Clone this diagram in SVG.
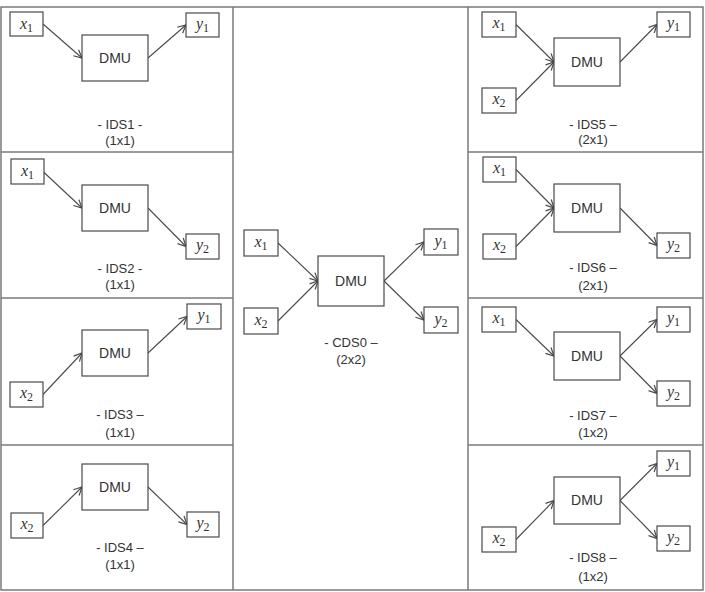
<svg xmlns="http://www.w3.org/2000/svg" width="705" height="592" viewBox="0 0 705 592">
<style>
.bg{fill:#fff}
.grid{stroke:#7a7a7a;stroke-width:1.5;fill:none}
.box{fill:#fff;stroke:#4a4a4a;stroke-width:1.2}
.dmu{font-family:"Liberation Sans",Arial,sans-serif;font-size:14px;fill:#333;text-anchor:middle}
.var{font-family:"Liberation Serif","Times New Roman",serif;font-size:16px;fill:#333;text-anchor:middle}
.var .v{font-style:italic}
.var .s{font-size:12px}
.cap{font-family:"Liberation Sans",Arial,sans-serif;font-size:13px;fill:#333;text-anchor:middle}
.arr{stroke:#4a4a4a;stroke-width:1.1;fill:none;marker-end:url(#ah)}
</style>
<defs>
<marker id="ah" markerUnits="userSpaceOnUse" markerWidth="12" markerHeight="12" refX="9" refY="5" orient="auto">
<path d="M1,1 L9,5 L1,9" fill="none" stroke="#4a4a4a" stroke-width="1.2"/>
</marker>
</defs>
<rect class="bg" x="0" y="0" width="705" height="592"/>
<g id="grid">
<rect class="grid" x="1" y="7" width="702" height="583"/>
<line class="grid" x1="233" y1="7" x2="233" y2="590"/>
<line class="grid" x1="468" y1="7" x2="468" y2="590"/>
<line class="grid" x1="1" y1="152" x2="233" y2="152"/>
<line class="grid" x1="1" y1="298" x2="233" y2="298"/>
<line class="grid" x1="1" y1="445" x2="233" y2="445"/>
<line class="grid" x1="468" y1="152" x2="703" y2="152"/>
<line class="grid" x1="468" y1="298" x2="703" y2="298"/>
<line class="grid" x1="468" y1="445" x2="703" y2="445"/>
</g>

<g id="connectors">
<line class="arr" x1="43" y1="24" x2="82" y2="58"/>
<line class="arr" x1="148" y1="58" x2="186" y2="25"/>
<line class="arr" x1="43" y1="171.5" x2="82" y2="208"/>
<line class="arr" x1="148" y1="208" x2="186" y2="246.5"/>
<line class="arr" x1="43" y1="394.5" x2="82" y2="353"/>
<line class="arr" x1="148" y1="353" x2="187" y2="316.5"/>
<line class="arr" x1="43" y1="525.5" x2="82" y2="487"/>
<line class="arr" x1="148" y1="487" x2="187" y2="524.5"/>
<line class="arr" x1="278" y1="243" x2="318" y2="281"/>
<line class="arr" x1="278" y1="321" x2="318" y2="281"/>
<line class="arr" x1="384" y1="281" x2="424" y2="242"/>
<line class="arr" x1="384" y1="281" x2="424" y2="320"/>
<line class="arr" x1="516" y1="24.5" x2="554" y2="62"/>
<line class="arr" x1="516" y1="100.5" x2="554" y2="62"/>
<line class="arr" x1="620" y1="62" x2="657" y2="24.5"/>
<line class="arr" x1="516" y1="169.5" x2="554" y2="208"/>
<line class="arr" x1="516" y1="246.5" x2="554" y2="208"/>
<line class="arr" x1="620" y1="208" x2="657" y2="245.5"/>
<line class="arr" x1="516" y1="319.5" x2="554" y2="356"/>
<line class="arr" x1="620" y1="356" x2="657" y2="319.5"/>
<line class="arr" x1="620" y1="356" x2="657" y2="393.5"/>
<line class="arr" x1="516" y1="539.5" x2="554" y2="500.5"/>
<line class="arr" x1="620" y1="500.5" x2="657" y2="463.5"/>
<line class="arr" x1="620" y1="500.5" x2="657" y2="538.5"/>
</g>

<g id="ids1">
<rect class="box" x="10" y="12" width="33" height="24"/>
<text class="var" x="26.5" y="29"><tspan class="v">x</tspan><tspan class="s" dy="3">1</tspan></text>
<rect class="box" x="82" y="35" width="66" height="46"/>
<text class="dmu" x="115" y="63">DMU</text>
<rect class="box" x="186" y="13" width="33" height="24"/>
<text class="var" x="202.5" y="29"><tspan class="v">y</tspan><tspan class="s" dy="3">1</tspan></text>
<text class="cap" x="120" y="129">- IDS1 -</text>
<text class="cap" x="120" y="145">(1x1)</text>
</g>

<g id="ids2">
<rect class="box" x="11" y="159" width="33" height="25"/>
<text class="var" x="27.5" y="176"><tspan class="v">x</tspan><tspan class="s" dy="3">1</tspan></text>
<rect class="box" x="82" y="185" width="66" height="46"/>
<text class="dmu" x="115" y="213">DMU</text>
<rect class="box" x="186" y="234" width="33" height="25"/>
<text class="var" x="202.5" y="250"><tspan class="v">y</tspan><tspan class="s" dy="3">2</tspan></text>
<text class="cap" x="120" y="273">- IDS2 -</text>
<text class="cap" x="120" y="289">(1x1)</text>
</g>

<g id="ids3">
<rect class="box" x="187" y="304" width="34" height="25"/>
<text class="var" x="204" y="320"><tspan class="v">y</tspan><tspan class="s" dy="3">1</tspan></text>
<rect class="box" x="82" y="330" width="66" height="46"/>
<text class="dmu" x="115" y="358">DMU</text>
<rect class="box" x="10" y="382" width="33" height="25"/>
<text class="var" x="26.5" y="398"><tspan class="v">x</tspan><tspan class="s" dy="3">2</tspan></text>
<text class="cap" x="120" y="419">- IDS3 –</text>
<text class="cap" x="120" y="437">(1x1)</text>
</g>

<g id="ids4">
<rect class="box" x="82" y="464" width="66" height="46"/>
<text class="dmu" x="115" y="492">DMU</text>
<rect class="box" x="11" y="513" width="32" height="25"/>
<text class="var" x="27" y="529"><tspan class="v">x</tspan><tspan class="s" dy="3">2</tspan></text>
<rect class="box" x="187" y="512" width="32" height="25"/>
<text class="var" x="203" y="528"><tspan class="v">y</tspan><tspan class="s" dy="3">2</tspan></text>
<text class="cap" x="120" y="552">- IDS4 –</text>
<text class="cap" x="120" y="569">(1x1)</text>
</g>

<g id="cds0">
<rect class="box" x="244" y="230" width="34" height="26"/>
<text class="var" x="261" y="247"><tspan class="v">x</tspan><tspan class="s" dy="3">1</tspan></text>
<rect class="box" x="244" y="308" width="34" height="26"/>
<text class="var" x="261" y="325"><tspan class="v">x</tspan><tspan class="s" dy="3">2</tspan></text>
<rect class="box" x="318" y="256" width="66" height="50"/>
<text class="dmu" x="351" y="286">DMU</text>
<rect class="box" x="424" y="229" width="34" height="26"/>
<text class="var" x="441" y="246"><tspan class="v">y</tspan><tspan class="s" dy="3">1</tspan></text>
<rect class="box" x="424" y="307" width="34" height="26"/>
<text class="var" x="441" y="324"><tspan class="v">y</tspan><tspan class="s" dy="3">2</tspan></text>
<text class="cap" x="351" y="347">- CDS0 –</text>
<text class="cap" x="351" y="364">(2x2)</text>
</g>

<g id="ids5">
<rect class="box" x="482" y="12" width="34" height="25"/>
<text class="var" x="499" y="28"><tspan class="v">x</tspan><tspan class="s" dy="3">1</tspan></text>
<rect class="box" x="482" y="88" width="34" height="25"/>
<text class="var" x="499" y="104"><tspan class="v">x</tspan><tspan class="s" dy="3">2</tspan></text>
<rect class="box" x="554" y="38" width="66" height="48"/>
<text class="dmu" x="587" y="67">DMU</text>
<rect class="box" x="657" y="12" width="33" height="25"/>
<text class="var" x="673.5" y="28"><tspan class="v">y</tspan><tspan class="s" dy="3">1</tspan></text>
<text class="cap" x="593" y="129">- IDS5 –</text>
<text class="cap" x="593" y="144">(2x1)</text>
</g>

<g id="ids6">
<rect class="box" x="483" y="157" width="33" height="25"/>
<text class="var" x="499.5" y="173"><tspan class="v">x</tspan><tspan class="s" dy="3">1</tspan></text>
<rect class="box" x="483" y="234" width="33" height="25"/>
<text class="var" x="499.5" y="250"><tspan class="v">x</tspan><tspan class="s" dy="3">2</tspan></text>
<rect class="box" x="554" y="184" width="66" height="48"/>
<text class="dmu" x="587" y="213">DMU</text>
<rect class="box" x="657" y="233" width="33" height="25"/>
<text class="var" x="673.5" y="249"><tspan class="v">y</tspan><tspan class="s" dy="3">2</tspan></text>
<text class="cap" x="593" y="272">- IDS6 –</text>
<text class="cap" x="593" y="290">(2x1)</text>
</g>

<g id="ids7">
<rect class="box" x="482" y="307" width="34" height="25"/>
<text class="var" x="499" y="323"><tspan class="v">x</tspan><tspan class="s" dy="3">1</tspan></text>
<rect class="box" x="554" y="332" width="66" height="48"/>
<text class="dmu" x="587" y="361">DMU</text>
<rect class="box" x="657" y="307" width="33" height="25"/>
<text class="var" x="673.5" y="323"><tspan class="v">y</tspan><tspan class="s" dy="3">1</tspan></text>
<rect class="box" x="657" y="381" width="33" height="25"/>
<text class="var" x="673.5" y="397"><tspan class="v">y</tspan><tspan class="s" dy="3">2</tspan></text>
<text class="cap" x="593" y="420">- IDS7 –</text>
<text class="cap" x="593" y="437">(1x2)</text>
</g>

<g id="ids8">
<rect class="box" x="657" y="451" width="33" height="25"/>
<text class="var" x="673.5" y="467"><tspan class="v">y</tspan><tspan class="s" dy="3">1</tspan></text>
<rect class="box" x="554" y="477" width="66" height="47"/>
<text class="dmu" x="587" y="505">DMU</text>
<rect class="box" x="482" y="527" width="34" height="25"/>
<text class="var" x="499" y="543"><tspan class="v">x</tspan><tspan class="s" dy="3">2</tspan></text>
<rect class="box" x="657" y="526" width="33" height="25"/>
<text class="var" x="673.5" y="542"><tspan class="v">y</tspan><tspan class="s" dy="3">2</tspan></text>
<text class="cap" x="593" y="562">- IDS8 –</text>
<text class="cap" x="593" y="581">(1x2)</text>
</g>
</svg>
